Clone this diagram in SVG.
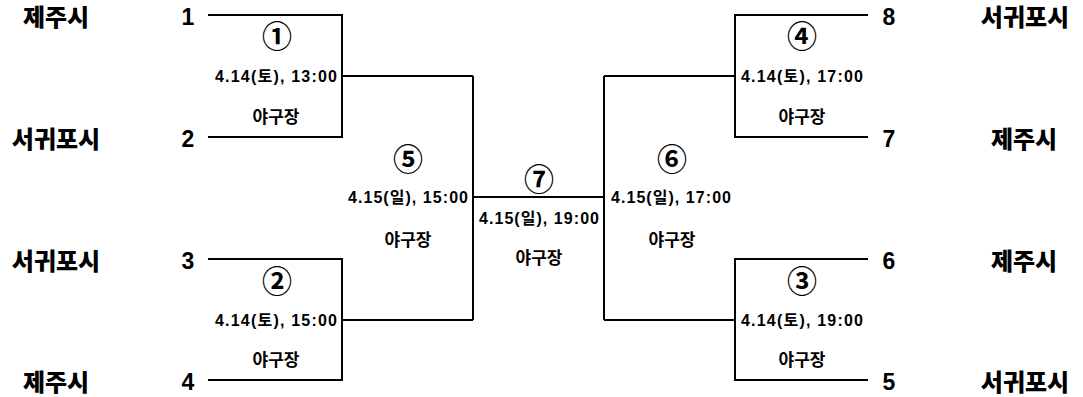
<svg xmlns="http://www.w3.org/2000/svg" width="1083" height="397" viewBox="0 0 1083 397">
<style>
.ln{stroke:#000;stroke-width:2;fill:none}
.city{font-family:"Noto Sans CJK KR",sans-serif;font-weight:900;font-size:24px;text-anchor:middle;fill:#000}
.seed{font-family:"Liberation Sans",Arial,sans-serif;font-weight:bold;font-size:23px;text-anchor:middle;fill:#000}
.circ{font-family:"Noto Sans CJK KR",sans-serif;font-weight:bold;font-size:30px;text-anchor:middle;fill:#000}
.date{font-family:"Liberation Sans","Noto Sans CJK KR",sans-serif;font-weight:bold;font-size:16px;text-anchor:middle;fill:#000}
.ven{font-family:"Noto Sans CJK KR",sans-serif;font-weight:bold;font-size:17px;text-anchor:middle;fill:#000}
</style>
<rect width="1083" height="397" fill="#fff"/>
<g id="connectors">
<path class="ln" d="M208,15H342V137H208M342,76H473M208,259H342V380H208M342,320H473M473,76V320M473,197H604M604,76V320M604,76H735M604,320H735M868,15H735V137H868M868,259H735V380H868"/>
</g>
<g id="team-left">
<text class="city" x="56" y="26">제주시</text>
<text class="city" x="56" y="148">서귀포시</text>
<text class="city" x="56" y="270">서귀포시</text>
<text class="city" x="56" y="391">제주시</text>
<text class="seed" x="188" y="25">1</text>
<text class="seed" x="188" y="147">2</text>
<text class="seed" x="188" y="269">3</text>
<text class="seed" x="188" y="390">4</text>
</g>
<g id="team-right">
<text class="city" x="1025" y="26">서귀포시</text>
<text class="city" x="1024" y="148">제주시</text>
<text class="city" x="1024" y="270">제주시</text>
<text class="city" x="1025" y="391">서귀포시</text>
<text class="seed" x="889" y="25">8</text>
<text class="seed" x="889" y="147">7</text>
<text class="seed" x="889" y="269">6</text>
<text class="seed" x="889" y="390">5</text>
</g>
<g id="match1">
<text class="circ" x="277" y="47">①</text>
<text class="date" x="276" y="82" textLength="122">4.14(토), 13:00</text>
<text class="ven" x="276" y="123">야구장</text>
</g>
<g id="match2">
<text class="circ" x="277" y="292">②</text>
<text class="date" x="276" y="326" textLength="122">4.14(토), 15:00</text>
<text class="ven" x="276" y="366">야구장</text>
</g>
<g id="match3">
<text class="circ" x="802" y="292">③</text>
<text class="date" x="802" y="326" textLength="122">4.14(토), 19:00</text>
<text class="ven" x="802" y="366">야구장</text>
</g>
<g id="match4">
<text class="circ" x="802" y="47">④</text>
<text class="date" x="802" y="82" textLength="122">4.14(토), 17:00</text>
<text class="ven" x="802" y="123">야구장</text>
</g>
<g id="match5">
<text class="circ" x="408" y="170">⑤</text>
<text class="date" x="408" y="203" textLength="120">4.15(일), 15:00</text>
<text class="ven" x="408" y="246">야구장</text>
</g>
<g id="match6">
<text class="circ" x="672" y="170">⑥</text>
<text class="date" x="671" y="203" textLength="120">4.15(일), 17:00</text>
<text class="ven" x="672" y="246">야구장</text>
</g>
<g id="match7">
<text class="circ" x="539" y="190">⑦</text>
<text class="date" x="539" y="224" textLength="120">4.15(일), 19:00</text>
<text class="ven" x="539" y="264">야구장</text>
</g>
</svg>
